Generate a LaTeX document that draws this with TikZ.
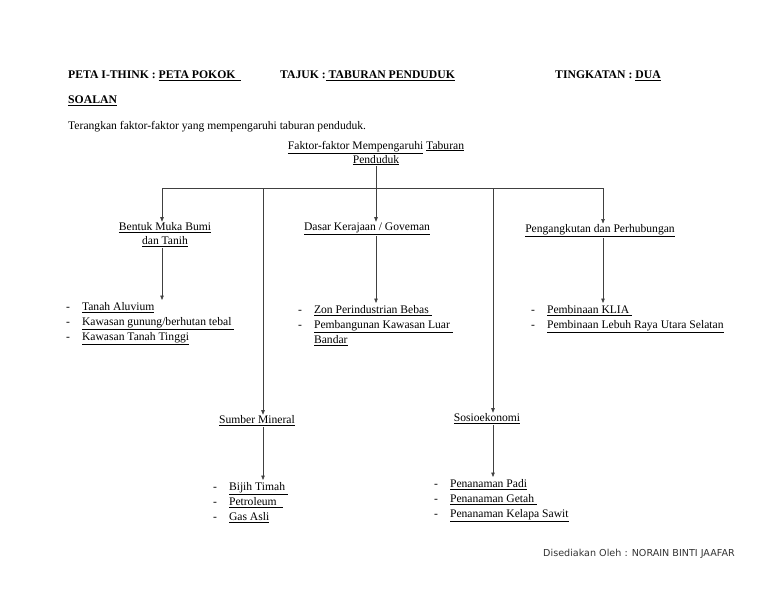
\documentclass[tikz,border=0pt]{standalone}
\usepackage{fontspec}
\setmainfont{Liberation Serif}
\newfontfamily\footfont{DejaVu Sans}
\usetikzlibrary{arrows.meta}
\newcommand{\undl}[1]{\underline{#1}}

\begin{document}
\begin{tikzpicture}[x=1pt, y=-1pt, font=\fontsize{11.6}{14}\selectfont,
  link/.style={draw=black!75, line width=0.6pt},
  arrow/.style={link, -{Triangle[length=4.5pt,width=3.5pt]}},
  head/.style={anchor=west, inner sep=0pt, font=\fontsize{11.7}{13}\selectfont\bfseries},
  topic/.style={align=center, inner sep=1pt},
  items/.style={anchor=north west, inner sep=0pt, font=\fontsize{11.6}{15}\selectfont}]
  \useasboundingbox (0,0) rectangle (768,594);

  % heading
  \node[head] (form) at (68,76) {PETA I-THINK : \undl{PETA POKOK\ \ }};
  \node[head] (title) at (280,76) {TAJUK :\undl{ TABURAN PENDUDUK}};
  \node[head] (level) at (555,76) {TINGKATAN : \undl{DUA}};
  \node[head] (qlabel) at (68,101) {\undl{SOALAN}};
  \node[anchor=west, inner sep=0pt] (question) at (68,127)
    {Terangkan faktor-faktor yang mempengaruhi taburan penduduk.};

  % tree
  \node[topic] (root) at (376,153)
    {\undl{Faktor-faktor Mempengaruhi} \undl{Taburan}\\\undl{Penduduk}};
  \coordinate (bar-west) at (162,188);
  \coordinate (bar-mineral) at (263,188);
  \coordinate (bar-socio) at (493,188);
  \coordinate (bar-east) at (603,188);

  \node[topic] (landform) at (165,235) {\undl{Bentuk Muka Bumi}\\\undl{dan Tanih}};
  \node[topic] (policy) at (367,229) {\undl{Dasar Kerajaan / Goveman}};
  \node[topic] (transport) at (600,231) {\undl{Pengangkutan dan Perhubungan}};
  \node[topic] (mineral) at (257,421) {\undl{Sumber Mineral}};
  \node[topic] (socio) at (487,419) {\undl{Sosioekonomi}};

  \draw[link] (bar-west) -- (bar-east);
  \draw[arrow] (root.south) -- (root.south |- policy.north);
  \draw[arrow] (bar-west) -- (bar-west |- landform.north);
  \draw[arrow] (bar-east) -- (bar-east |- transport.north);
  \draw[arrow] (bar-mineral) -- (bar-mineral |- mineral.north);
  \draw[arrow] (bar-socio) -- (bar-socio |- socio.north);

  % lists
  \node[items] (landform-list) at (66,300) {\begin{tabular}{@{}l@{\hspace{12pt}}l@{}}
    - & \undl{Tanah Aluvium}\\
    - & \undl{Kawasan gunung/berhutan tebal\ }\\
    - & \undl{Kawasan Tanah Tinggi}\end{tabular}};
  \node[items] (policy-list) at (298,303) {\begin{tabular}{@{}l@{\hspace{12pt}}l@{}}
    - & \undl{Zon Perindustrian Bebas\ }\\
    - & \undl{Pembangunan Kawasan Luar\ }\\
      & \undl{Bandar}\end{tabular}};
  \node[items] (transport-list) at (531,303) {\begin{tabular}{@{}l@{\hspace{12pt}}l@{}}
    - & \undl{Pembinaan KLIA\ }\\
    - & \undl{Pembinaan Lebuh Raya Utara Selatan}\end{tabular}};
  \node[items] (mineral-list) at (213,480) {\begin{tabular}{@{}l@{\hspace{12pt}}l@{}}
    - & \undl{Bijih Timah\ }\\
    - & \undl{Petroleum\ \ }\\
    - & \undl{Gas Asli}\end{tabular}};
  \node[items] (socio-list) at (434,477) {\begin{tabular}{@{}l@{\hspace{12pt}}l@{}}
    - & \undl{Penanaman Padi}\\
    - & \undl{Penanaman Getah\ }\\
    - & \undl{Penanaman Kelapa Sawit}\end{tabular}};

  \draw[arrow] (landform.south -| bar-west) -- (bar-west |- landform-list.north);
  \draw[arrow] (root.south |- policy.south) -- (root.south |- policy-list.north);
  \draw[arrow] (transport.south -| bar-east) -- (bar-east |- transport-list.north);
  \draw[arrow] (mineral.south -| bar-mineral) -- (bar-mineral |- mineral-list.north);
  \draw[arrow] (socio.south -| bar-socio) -- (bar-socio |- socio-list.north);

  \node[anchor=west, inner sep=0pt, text=black!80, font=\footfont\fontsize{9.6}{11}\selectfont]
    (author) at (543,554) {Disediakan Oleh : NORAIN BINTI JAAFAR};
\end{tikzpicture}
\end{document}
